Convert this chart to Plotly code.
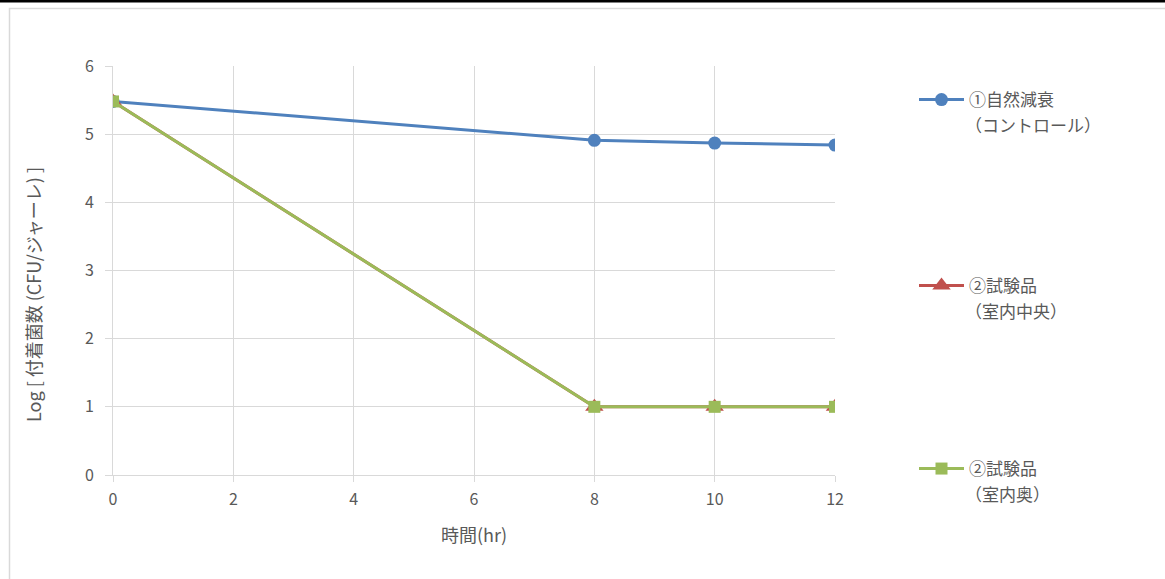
import plotly.graph_objects as go

hours = [0, 8, 10, 12]
control = [5.48, 4.91, 4.87, 4.84]
center = [5.48, 1.0, 1.0, 1.0]
back = [5.48, 1.0, 1.0, 1.0]

names = ["①自然減衰", "②試験品", "②試験品"]
subnames = ["（コントロール）", "（室内中央）", "（室内奥）"]
x_ticks = [0, 2, 4, 6, 8, 10, 12]
y_ticks = [0, 1, 2, 3, 4, 5, 6]
x_title = "時間(hr)"
y_title = "Log [ 付着菌数 (CFU/ジャーレ) ]"

FONT = "Noto Sans CJK JP"
TXT = "#595959"
GRID = "#D9D9D9"

fig = go.Figure()
fig.add_trace(go.Scatter(x=hours, y=control, name=names[0], mode="lines+markers",
                         line=dict(color="#4F81BD", width=3),
                         marker=dict(symbol="circle", size=13, color="#4F81BD"),
                         legend="legend"))
fig.add_trace(go.Scatter(x=hours, y=center, name=names[1], mode="lines+markers",
                         line=dict(color="#C0504D", width=3),
                         marker=dict(symbol="triangle-up", size=16, color="#C0504D"),
                         legend="legend2"))
fig.add_trace(go.Scatter(x=hours, y=back, name=names[2], mode="lines+markers",
                         line=dict(color="#9BBB59", width=3),
                         marker=dict(symbol="square", size=12, color="#9BBB59"),
                         legend="legend3"))

W, H = 1165, 579
L, R, T, B = 113, 330, 66, 104
pw, ph = W - L - R, H - T - B

def px2x(p):
    return (p - L) / pw

def py2y(p):
    return (H - B - p) / ph

legfont = dict(family=FONT, size=17, color=TXT)
leg_common = dict(font=legfont, xanchor="left", yanchor="middle", bgcolor="rgba(0,0,0,0)",
                  itemwidth=45)

leg_y = [100, 286, 469]
sub_y = [124, 310, 493]

annotations = []
for s, yy in zip(subnames, sub_y):
    annotations.append(dict(text=s, xref="paper", yref="paper", x=px2x(963), y=py2y(yy),
                            xanchor="left", yanchor="middle", showarrow=False,
                            font=dict(family=FONT, size=17, color=TXT)))
annotations.append(dict(text=y_title, xref="paper", yref="paper", x=px2x(33), y=py2y(295),
                        xanchor="center", yanchor="middle", showarrow=False, textangle=-90,
                        font=dict(family=FONT, size=18, color=TXT)))

fig.update_layout(
    width=W, height=H,
    margin=dict(l=L, r=R, t=T, b=B),
    paper_bgcolor="white", plot_bgcolor="white",
    font=dict(family=FONT, color=TXT),
    showlegend=True,
    legend=dict(x=px2x(914), y=py2y(leg_y[0]), **leg_common),
    legend2=dict(x=px2x(914), y=py2y(leg_y[1]), **leg_common),
    legend3=dict(x=px2x(914), y=py2y(leg_y[2]), **leg_common),
    xaxis=dict(range=[0, 12], tickvals=x_ticks, showgrid=True, gridcolor=GRID, gridwidth=1,
               zeroline=False, showline=True, linecolor=GRID, linewidth=1,
               ticks="outside", ticklen=6, tickcolor=GRID, ticklabelstandoff=4,
               tickfont=dict(family=FONT, size=16, color=TXT),
               title=dict(text=x_title, font=dict(family=FONT, size=18, color=TXT), standoff=20)),
    yaxis=dict(range=[0, 6], tickvals=y_ticks, showgrid=True, gridcolor=GRID, gridwidth=1,
               zeroline=False, showline=True, linecolor=GRID, linewidth=1,
               ticks="outside", ticklen=7, tickcolor=GRID, ticklabelstandoff=8,
               tickfont=dict(family=FONT, size=16, color=TXT)),
    annotations=annotations,
    shapes=[
        dict(type="rect", xref="paper", yref="paper",
             x0=px2x(-5), x1=px2x(W + 5), y0=py2y(2.5), y1=py2y(-5),
             fillcolor="black", line=dict(width=0), layer="above"),
        dict(type="rect", xref="paper", yref="paper",
             x0=px2x(9.5), x1=px2x(W + 10), y0=py2y(H + 10), y1=py2y(8.5),
             fillcolor="rgba(0,0,0,0)", line=dict(color=GRID, width=1.5), layer="below"),
    ],
)

fig.write_html("out.html", config={"displayModeBar": False},
               post_script="document.body.style.margin='0';document.body.style.padding='0';")
